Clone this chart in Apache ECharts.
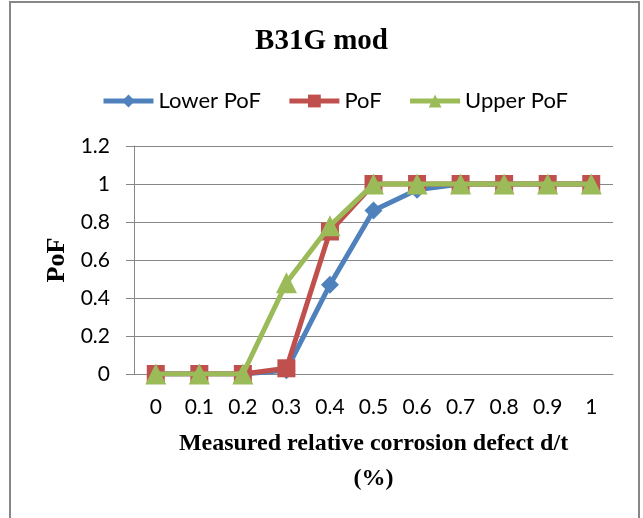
<!DOCTYPE html>
<html><head><meta charset="utf-8">
<script src="https://cdn.jsdelivr.net/npm/echarts@6/dist/echarts.min.js"></script>
<style>html,body{margin:0;padding:0;background:#fff}#c{width:643px;height:518px}</style>
</head><body><div id="c"></div>
<script>
const categories = ['0','0.1','0.2','0.3','0.4','0.5','0.6','0.7','0.8','0.9','1'];
const lowerPoF = [0,0,0,0.02,0.47,0.86,0.97,1,1,1,1];
const pof = [0,0,0,0.03,0.75,1,1,1,1,1,1];
const upperPoF = [0,0,0,0.48,0.78,1,1,1,1,1,1];
const yTicks = [0,0.2,0.4,0.6,0.8,1,1.2];

const chart = echarts.init(document.getElementById('c'));
const sans = 'Lato, "Open Sans", sans-serif';
const serif = '"Liberation Serif", "Times New Roman", serif';
chart.setOption({
  animation:false,
  graphic:[{type:'rect', shape:{x:10,y:2,width:629,height:530}, style:{fill:'none', stroke:'#878787', lineWidth:2}, silent:true}],
  title:{text:'B31G mod', left:'center', top:22, textStyle:{fontFamily:serif, fontWeight:'bold', fontSize:29, color:'#000'}},
  legend:{top:85, left:96, itemWidth:50, itemHeight:16, itemGap:26,
    lineStyle:{width:5},
    textStyle:{fontFamily:sans, fontSize:22, color:'#000'},
    data:['Lower PoF','PoF','Upper PoF']},
  grid:{left:134, right:30, top:146, bottom:144, containLabel:false},
  xAxis:{type:'category', data:categories, boundaryGap:true,
    name:'Measured relative corrosion defect d/t\n(%)', nameLocation:'middle', nameGap:52,
    nameTextStyle:{fontFamily:serif, fontWeight:'bold', fontSize:24, color:'#000', lineHeight:35},
    axisLine:{lineStyle:{color:'#868686', width:1}}, axisTick:{show:false},
    axisLabel:{margin:23, fontFamily:sans, fontSize:21, color:'#000'}},
  yAxis:{type:'value', min:0, max:1.2, interval:0.2,
    name:'PoF', nameLocation:'middle', nameGap:62, nameRotate:90,
    nameTextStyle:{fontFamily:serif, fontWeight:'bold', fontSize:26, color:'#000'},
    axisLine:{show:true, lineStyle:{color:'#868686'}}, axisTick:{show:true, length:8, lineStyle:{color:'#868686'}},
    splitLine:{lineStyle:{color:'#868686'}},
    axisLabel:{margin:24, fontFamily:sans, fontSize:21, color:'#000',
      formatter:v=>yTicks.includes(+v.toFixed(1))?String(+v.toFixed(1)):''}},
  series:[
    {name:'Lower PoF', type:'line', data:lowerPoF, symbol:'diamond', symbolSize:18, z:2,
      lineStyle:{color:'#4F81BD', width:5}, itemStyle:{color:'#4F81BD'}},
    {name:'PoF', type:'line', data:pof, symbol:'rect', symbolSize:18, z:3,
      lineStyle:{color:'#C0504D', width:5}, itemStyle:{color:'#C0504D'}},
    {name:'Upper PoF', type:'line', data:upperPoF, symbol:'triangle', symbolSize:21, z:4,
      lineStyle:{color:'#9BBB59', width:5}, itemStyle:{color:'#9BBB59'}}
  ]
});
</script></body></html>
